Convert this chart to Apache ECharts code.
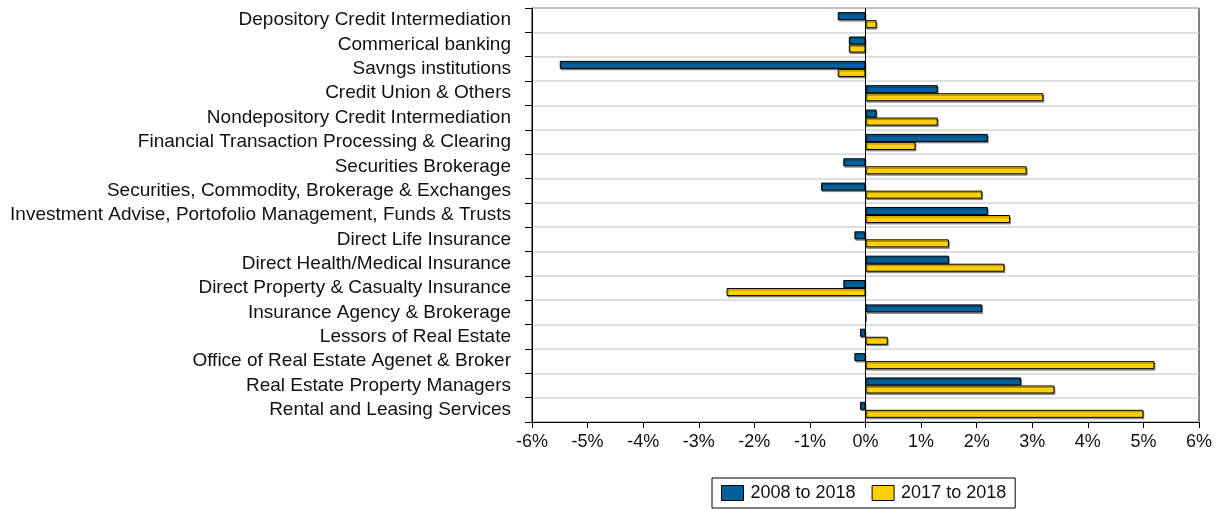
<!DOCTYPE html>
<html>
<head>
<meta charset="utf-8">
<script src="https://cdn.jsdelivr.net/npm/echarts@6/dist/echarts.min.js"></script>
<style>
  html, body { margin: 0; padding: 0; background: #fff; }
  #chart { width: 1225px; height: 510px; }
</style>
</head>
<body>
<div id="chart"></div>
<script>
// Industry categories, listed top to bottom
const categories = [
  'Depository Credit Intermediation',
  'Commerical banking',
  'Savngs institutions',
  'Credit Union & Others',
  'Nondepository Credit Intermediation',
  'Financial Transaction Processing & Clearing',
  'Securities Brokerage',
  'Securities, Commodity, Brokerage & Exchanges',
  'Investment Advise, Portofolio Management, Funds & Trusts',
  'Direct Life Insurance',
  'Direct Health/Medical Insurance',
  'Direct Property & Casualty Insurance',
  'Insurance Agency & Brokerage',
  'Lessors of Real Estate',
  'Office of Real Estate Agenet & Broker',
  'Real Estate Property Managers',
  'Rental and Leasing Services'
];

// Percent change, 2008 to 2018
const change2008to2018 = [-0.5, -0.3, -5.5, 1.3, 0.2, 2.2, -0.4, -0.8, 2.2, -0.2, 1.5, -0.4, 2.1, -0.1, -0.2, 2.8, -0.1];
// Percent change, 2017 to 2018
const change2017to2018 = [0.2, -0.3, -0.5, 3.2, 1.3, 0.9, 2.9, 2.1, 2.6, 1.5, 2.5, -2.5, 0, 0.4, 5.2, 3.4, 5.0];

const seriesNames = ['2008 to 2018', '2017 to 2018'];
const xTicks = { min: -6, max: 6, step: 1 };

const FONT = '"Liberation Sans", Arial, Helvetica, sans-serif';

const barStyle = (color) => ({
  color: color,
  borderColor: '#000',
  borderWidth: 1,
  shadowColor: 'rgba(0,0,0,0.35)',
  shadowOffsetX: 1,
  shadowOffsetY: 1.5,
  shadowBlur: 0
});

const chart = echarts.init(document.getElementById('chart'), null, { renderer: 'canvas' });

chart.setOption({
  animation: false,
  backgroundColor: '#fff',
  textStyle: { fontFamily: FONT },
  grid: {
    left: 532, right: 26, top: 8, bottom: 88,
    show: true, borderColor: '#000', borderWidth: 1, backgroundColor: 'transparent'
  },
  legend: {
    top: 478,
    left: 712,
    icon: 'rect',
    itemWidth: 22,
    itemHeight: 15,
    itemGap: 16,
    padding: [6, 9, 6, 9],
    borderColor: '#000',
    borderWidth: 1,
    textStyle: { fontFamily: FONT, fontSize: 18, color: '#111', padding: [0, 0, 0, 2] },
    data: seriesNames.map(n => ({ name: n, itemStyle: { borderColor: '#000', borderWidth: 1, shadowBlur: 0, shadowOffsetX: 0, shadowOffsetY: 0, shadowColor: 'transparent' } }))
  },
  xAxis: {
    type: 'value',
    min: xTicks.min,
    max: xTicks.max,
    interval: xTicks.step,
    axisLine: { show: true, lineStyle: { color: '#000', width: 1 } },
    axisTick: { show: true, length: 6, lineStyle: { color: '#000' } },
    axisLabel: { formatter: '{value}%', fontSize: 18, color: '#111', margin: 11, fontFamily: FONT },
    splitLine: { show: false }
  },
  yAxis: {
    type: 'category',
    inverse: true,
    data: categories,
    axisLine: { show: true, onZero: false, lineStyle: { color: '#000', width: 1 } },
    axisTick: { show: true, interval: 0, length: 7, lineStyle: { color: '#000' } },
    axisLabel: { interval: 0, fontSize: 19, color: '#111', margin: 21, fontFamily: FONT, padding: [2, 0, 0, 0] },
    splitLine: { show: true, interval: 0, lineStyle: { color: '#d4d4d4', width: 1.5 } }
  },
  series: [
    {
      name: seriesNames[0],
      type: 'bar',
      data: change2008to2018,
      barGap: '0%',
      barCategoryGap: '34%',
      itemStyle: barStyle('#00609A'),
      markLine: {
        silent: true,
        symbol: 'none',
        label: { show: false },
        lineStyle: { color: '#000', width: 1, type: 'solid' },
        data: [{ xAxis: 0 }]
      }
    },
    {
      name: seriesNames[1],
      type: 'bar',
      data: change2017to2018,
      barGap: '0%',
      barCategoryGap: '34%',
      itemStyle: barStyle('#FFD100')
    }
  ]
});
</script>
</body>
</html>
